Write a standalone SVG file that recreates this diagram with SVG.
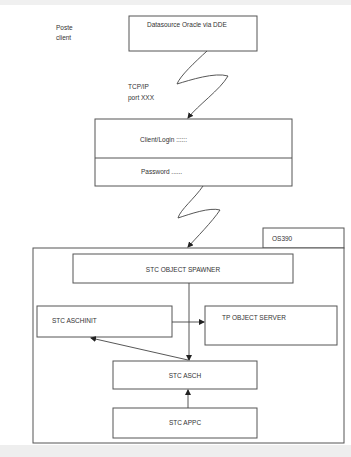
<svg xmlns="http://www.w3.org/2000/svg" width="351" height="457" viewBox="0 0 351 457">
<style>
.b{fill:#fff;stroke:#555;stroke-width:1}
.t{font-family:"Liberation Sans",Arial,sans-serif;font-size:6.5px;fill:#333}
.c{fill:none;stroke:#444;stroke-width:0.9}
</style>
<defs>
<marker id="a" markerWidth="6" markerHeight="6" refX="5" refY="3" orient="auto" markerUnits="userSpaceOnUse">
<path d="M0,0 L6,3 L0,6 z" fill="#222"/>
</marker>
</defs>
<rect width="351" height="457" fill="#fff"/>
<rect x="0" y="0" width="351" height="5" fill="#f0f0f0"/>
<rect x="0" y="445" width="351" height="12" fill="#eeeeee"/>
<g id="client-label"><text class="t" x="56" y="30">Poste</text><text class="t" x="56" y="40">client</text></g>
<g id="datasource"><rect class="b" x="129" y="16" width="128" height="35"/><text class="t" x="147" y="27">Datasource Oracle via DDE</text></g>
<g id="tcp-label"><text class="t" x="128" y="89">TCP/IP</text><text class="t" x="128" y="100">port XXX</text></g>
<g id="login"><rect class="b" x="95" y="119" width="197" height="67"/><line x1="95" y1="158" x2="292" y2="158" stroke="#555"/><text class="t" x="140" y="142">Client/Login ::::::</text><text class="t" x="141" y="174">Password ......</text></g>
<g id="os390"><rect class="b" x="263" y="228" width="81" height="20"/><text class="t" x="272" y="241">OS390</text><rect class="b" x="33" y="248" width="311" height="195"/></g>
<g id="spawner"><rect class="b" x="73" y="254" width="220" height="29"/><text class="t" x="183" y="272" text-anchor="middle">STC OBJECT SPAWNER</text></g>
<g id="aschinit"><rect class="b" x="37" y="306" width="135" height="31"/><text class="t" x="52" y="323">STC ASCHINIT</text></g>
<g id="tpserver"><rect class="b" x="205" y="306" width="132" height="39"/><text class="t" x="222" y="320">TP OBJECT SERVER</text></g>
<g id="asch"><rect class="b" x="113" y="361" width="144" height="28"/><text class="t" x="185" y="378" text-anchor="middle">STC ASCH</text></g>
<g id="appc"><rect class="b" x="113" y="408" width="144" height="30"/><text class="t" x="185" y="425" text-anchor="middle">STC APPC</text></g>
<g id="connectors">
<path class="c" d="M207,51 C195,62 180,76 177,84 C190,80 215,72 228,76 C220,90 198,105 188,118" marker-end="url(#a)"/>
<path class="c" d="M203,186 C195,198 180,210 178,218 C190,214 210,207 220,210 C212,222 196,238 188,247" marker-end="url(#a)"/>
<line class="c" x1="189" y1="283" x2="189" y2="360" marker-end="url(#a)"/>
<line class="c" x1="172" y1="322" x2="204" y2="322" marker-end="url(#a)"/>
<line class="c" x1="188" y1="360" x2="91" y2="338" marker-end="url(#a)"/>
<line class="c" x1="188" y1="408" x2="188" y2="390" marker-end="url(#a)"/>
</g>
</svg>
